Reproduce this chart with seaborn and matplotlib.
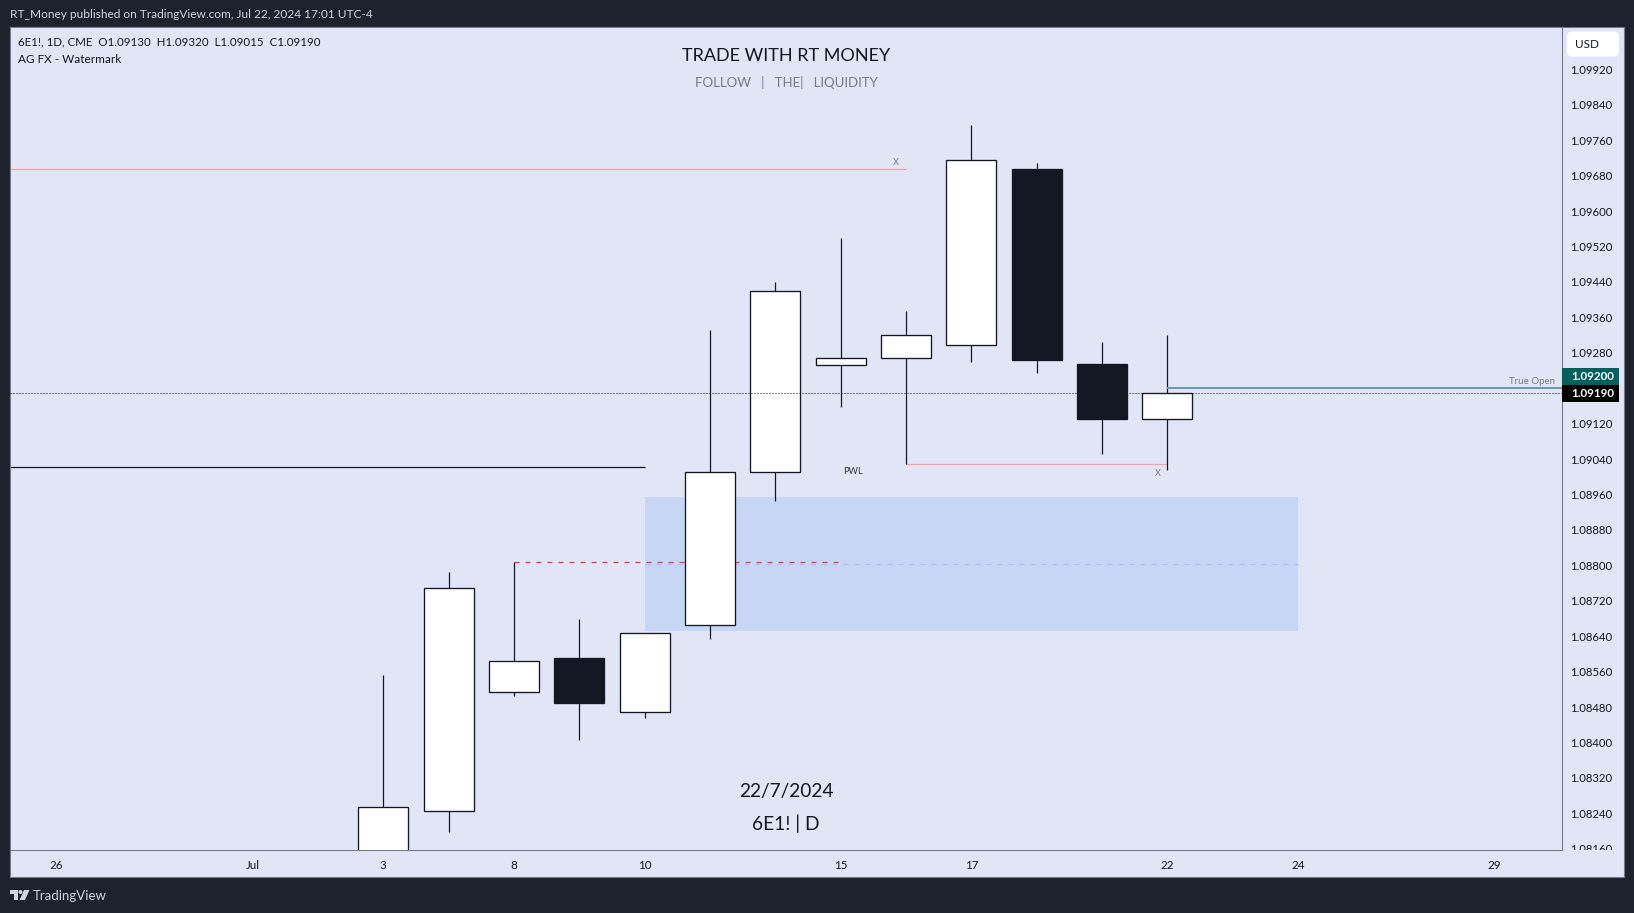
import matplotlib
matplotlib.use('Agg')
import matplotlib.pyplot as plt
import pandas as pd
import seaborn as sns
from matplotlib.patches import FancyBboxPatch, Polygon, Rectangle, Circle
from matplotlib.transforms import Bbox, TransformedBbox

# candles, trading day index counted from Jul 3
days = list(range(13))
opens = [1.08080, 1.08246, 1.08514, 1.08591, 1.08469, 1.08665, 1.09011, 1.09253, 1.09269, 1.09298, 1.09695, 1.09255, 1.09130]
highs = [1.08552, 1.08785, 1.08808, 1.08679, 1.08648, 1.09331, 1.09439, 1.09540, 1.09375, 1.09794, 1.09709, 1.09305, 1.09320]
lows = [1.08070, 1.08197, 1.08505, 1.08406, 1.08455, 1.08634, 1.08945, 1.09157, 1.09029, 1.09260, 1.09234, 1.09051, 1.09015]
closes = [1.08255, 1.08749, 1.08584, 1.08488, 1.08646, 1.09010, 1.09420, 1.09267, 1.09321, 1.09716, 1.09264, 1.09130, 1.09190]

x_ticks = [-5, -2, 0, 2, 4, 7, 9, 12, 14, 17]
x_labels = ['26', 'Jul', '3', '8', '10', '15', '17', '22', '24', '29']
y_ticks = [1.0816, 1.0824, 1.0832, 1.0840, 1.0848, 1.0856, 1.0864, 1.0872, 1.0880, 1.0888, 1.0896, 1.0904,
           1.0912, 1.0928, 1.0936, 1.0944, 1.0952, 1.0960, 1.0968, 1.0976, 1.0984, 1.0992]

zone_low = 1.08651
zone_high = 1.08954
zone_mid = 1.08804
red_level = 1.08808
pwl_level = 1.09029
old_high = 1.09695
old_low = 1.09021
true_open = 1.09200
last_close = 1.09190

W, H = 1634, 913
BG = '#1E222D'
PANE = '#E1E5F6'
DARK = '#131722'
GREY = '#787B86'
LIGHT = '#D1D4DC'


def px(x, y):
    return x / W, 1 - y / H


def ax_rect(x0, y0, x1, y1):
    return [x0 / W, 1 - y1 / H, (x1 - x0) / W, (y1 - y0) / H]


def main():
    sns.set_theme(style='white')
    plt.rcParams['font.family'] = ['Lato', 'DejaVu Sans']

    fig = plt.figure(figsize=(W / 100, H / 100), dpi=100, facecolor=BG)

    # frame holding the price and time strips
    frame = fig.add_axes(ax_rect(10, 27, 1624, 877), facecolor=PANE)
    frame.set_xticks([])
    frame.set_yticks([])
    for s in frame.spines.values():
        s.set_color(GREY)
        s.set_linewidth(0.8)

    ax = fig.add_axes(ax_rect(10, 27, 1562, 850), facecolor=PANE)

    df = pd.DataFrame({'day': days, 'open': opens, 'high': highs, 'low': lows, 'close': closes})
    df['top'] = df[['open', 'close']].max(axis=1)
    df['bottom'] = df[['open', 'close']].min(axis=1)
    df['body'] = df['top'] - df['bottom']
    up = df[df['close'] >= df['open']]
    down = df[df['close'] < df['open']]

    ax.fill_between([4.01, 14], zone_low, zone_high, color='#C8D6F5', lw=0, zorder=1)
    ax.hlines(zone_mid, 4, 14, color='#A9C1F5', lw=0.9, linestyles=(0, (4, 4.8)), zorder=2)
    ax.hlines(red_level, 2, 7, color='#E8394A', lw=0.9, linestyles=(0, (4, 4.8)), zorder=2)

    xmin, xmax = -5.714, 18.04
    ax.hlines(old_high, xmin, 8, color='#F4A3A3', lw=0.9, zorder=2)
    ax.hlines(old_low, xmin, 4, color=DARK, lw=0.9, zorder=2)
    ax.hlines(pwl_level, 8, 12, color='#F4A3A3', lw=0.9, zorder=2)

    ax.vlines(df['day'], df['low'], df['high'], color=DARK, lw=0.9, zorder=3)
    sns.barplot(data=up, x='day', y='body', bottom=up['bottom'].values, native_scale=True, width=0.765,
                color='white', saturation=1, edgecolor=DARK, linewidth=0.95, errorbar=None, zorder=4, ax=ax)
    sns.barplot(data=down, x='day', y='body', bottom=down['bottom'].values, native_scale=True, width=0.765,
                color=DARK, saturation=1, edgecolor=DARK, linewidth=0.95, errorbar=None, zorder=4, ax=ax)

    ax.hlines(last_close, xmin, xmax, color=DARK, lw=0.72, linestyles=(0, (1, 2)), zorder=5)
    ax.hlines(true_open, 12, xmax, color='#5F9EA8', lw=1.4, zorder=5)

    ax.set_xlim(xmin, xmax)
    ax.set_ylim(1.081571, 1.100155)
    ax.set_xlabel('')
    ax.set_ylabel('')

    ax.set_xticks(x_ticks)
    ax.set_xticklabels(x_labels)
    ax.yaxis.tick_right()
    ax.set_yticks(y_ticks)
    ax.set_yticklabels([f'{v:.5f}' for v in y_ticks])
    ax.tick_params(axis='x', length=0, pad=7, labelsize=8.4, labelcolor=DARK)
    ax.tick_params(axis='y', length=0, pad=5.5, labelsize=8.2, labelcolor=DARK)
    for label in ax.get_yticklabels():
        label.set_ha('left')
        # the lowest price label is cut by the time strip
        label.set_clip_box(TransformedBbox(Bbox([[0, 0], [1.2, 1]]), ax.transAxes))
        label.set_clip_on(True)
    for s in ax.spines.values():
        s.set_color(GREY)
        s.set_linewidth(0.8)

    # chart annotations
    ax.text(7.18, 1.09012, 'PWL', fontsize=6.6, color='#333333', ha='center', va='center', zorder=6)
    ax.text(11.85, 1.09007, 'X', fontsize=6.6, color=GREY, ha='center', va='center', zorder=6)
    ax.text(7.85, 1.09710, 'X', fontsize=6.6, color=GREY, ha='center', va='center', zorder=6)
    ax.text(17.93, 1.09214, 'True Open', fontsize=7, color=GREY, ha='right', va='center', zorder=6)

    # pane texts
    fig.text(*px(786, 56), 'TRADE WITH RT MONEY', fontsize=13, color=DARK, ha='center', va='center', zorder=10)
    fig.text(*px(786, 82.5), 'FOLLOW   |   THE|   LIQUIDITY', fontsize=9.5, color=GREY, ha='center', va='center', zorder=10)
    fig.text(*px(786, 791), '22/7/2024', fontsize=13.8, color=DARK, ha='center', va='center', zorder=10)
    fig.text(*px(786, 824), '6E1! | D', fontsize=13.8, color=DARK, ha='center', va='center', zorder=10)
    fig.text(*px(18, 42), '6E1!, 1D, CME  O1.09130  H1.09320  L1.09015  C1.09190', fontsize=8.3, color=DARK,
             va='center', zorder=10)
    fig.text(*px(18, 59.5), 'AG FX - Watermark', fontsize=8.5, color=DARK, va='center', zorder=10)

    # header and footer
    fig.text(*px(10, 15), 'RT_Money published on TradingView.com, Jul 22, 2024 17:01 UTC-4', fontsize=8.6,
             color=LIGHT, va='center')
    fig.text(*px(33, 896), 'TradingView', fontsize=9.5, color=LIGHT, va='center')

    def shape(patch):
        patch.set_transform(fig.transFigure)
        patch.set_zorder(10)
        fig.add_artist(patch)

    def box(x0, y0, x1, y1, color):
        shape(Rectangle(px(x0, y1), (x1 - x0) / W, (y1 - y0) / H, facecolor=color, edgecolor='none'))

    # logo
    box(10, 890, 18, 894, LIGHT)
    box(14, 890, 18, 900, LIGHT)
    shape(Polygon([px(24, 890), px(29.5, 890), px(25, 900), px(19.5, 900)], closed=True, facecolor=LIGHT,
                  edgecolor='none'))
    logo_dot = Circle((20.5, H - 892), 2, facecolor=LIGHT, edgecolor='none', transform=None, zorder=10)
    fig.add_artist(logo_dot)

    # price labels on the right strip
    box(1562, 368, 1619, 385, '#00615F')
    box(1562, 385, 1619, 402, '#000000')
    fig.text(*px(1571.5, 376.5), '1.09200', fontsize=8.4, color='white', va='center', zorder=11, fontweight='bold')
    fig.text(*px(1571.5, 393.5), '1.09190', fontsize=8.4, color='white', va='center', zorder=11, fontweight='bold')

    # USD button
    btn = FancyBboxPatch(px(1569, 54.5), 48 / W, 21 / H, boxstyle='round,pad=0,rounding_size=0.002',
                         mutation_aspect=W / H, facecolor='white', edgecolor='white', lw=3)
    shape(btn)
    fig.text(*px(1575, 45), 'USD', fontsize=8.4, color=DARK, va='center', zorder=11)

    fig.savefig('out.png', dpi=100, facecolor=BG)
    plt.close(fig)


if __name__ == '__main__':
    main()
